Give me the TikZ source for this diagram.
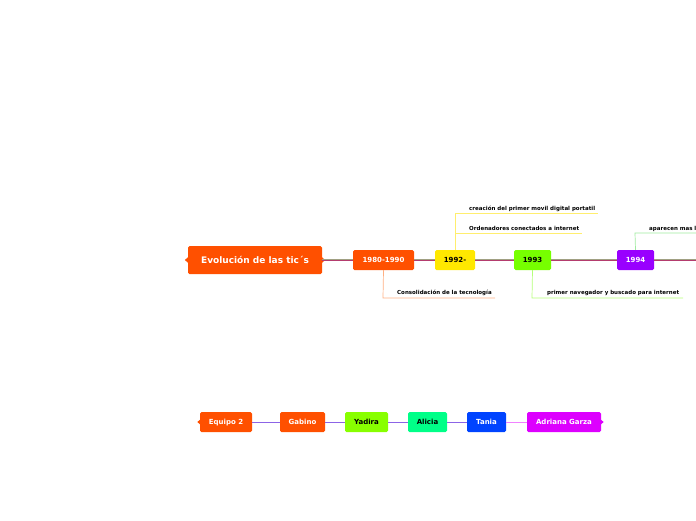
\documentclass[tikz,border=0pt]{standalone}
\usepackage{fontspec}
\setmainfont{DejaVu Sans}
\usetikzlibrary{positioning,calc}
\definecolor{orangecolor}{RGB}{255,80,0}
\definecolor{yellowcolor}{RGB}{255,232,0}
\definecolor{limecolor}{RGB}{119,255,0}
\definecolor{violetcolor}{RGB}{153,0,255}
\definecolor{yadiracolor}{RGB}{136,255,0}
\definecolor{aliciacolor}{RGB}{0,255,136}
\definecolor{taniacolor}{RGB}{0,68,255}
\definecolor{adrianacolor}{RGB}{221,0,255}
\definecolor{orangeline}{RGB}{255,175,130}
\definecolor{yellowline}{RGB}{255,238,110}
\definecolor{limeline}{RGB}{180,255,120}
\definecolor{violetline}{RGB}{160,235,160}
\definecolor{mainline}{RGB}{180,60,110}
\definecolor{shadeline}{RGB}{160,160,130}
\definecolor{teamline}{RGB}{140,100,230}
\definecolor{pinkline}{RGB}{240,130,255}
\tikzset{
  topic/.style={
    draw=none, rounded corners=1.5pt, inner sep=0pt,
    text height=6.5pt, text depth=1.4pt,
    minimum height=20pt, font=\fontsize{7}{8}\selectfont\bfseries
  },
  title/.style={
    topic, minimum height=28pt, minimum width=134pt,
    text height=8.4pt, text depth=1.8pt,
    font=\fontsize{9}{10}\selectfont\bfseries
  },
  note/.style={
    anchor=base west, inner sep=0pt, font=\fontsize{5.5}{6.5}\selectfont\bfseries
  },
  link/.style={line width=0.8pt},
  branch/.style={line width=0.7pt}
}

\begin{document}
\begin{tikzpicture}[x=1pt, y=-1pt]
\useasboundingbox (0,0) rectangle (696,520);
\clip (0,0) rectangle (696,520);

\path[]
  (255,260) node[title, fill=orangecolor, text=white] (tics) {Evolución de las tic´s}
  (383.5,260) node[topic, minimum width=61pt, fill=orangecolor, text=white] (y1980) {1980-1990}
  (455,260) node[topic, minimum width=40pt, fill=yellowcolor, text=black] (y1992) {1992-}
  (532.5,260) node[topic, minimum width=37pt, fill=limecolor, text=black] (y1993) {1993}
  (635.5,260) node[topic, minimum width=37pt, fill=violetcolor, text=white] (y1994) {1994}
;
\coordinate (timeline_end) at (696,260);

\path[fill=orangecolor]
  ($(tics.west)+(-3,0)$) -- ($(tics.west)+(0.5,-3)$) -- ($(tics.west)+(0.5,3)$) -- cycle
  ($(tics.east)+(3,0)$) -- ($(tics.east)+(-0.5,-3)$) -- ($(tics.east)+(-0.5,3)$) -- cycle
;

\path[draw,link,shadeline] ([yshift=0.5pt]tics.east) -- ([yshift=0.5pt]y1980.west);
\path[draw,link,mainline] ([yshift=-0.4pt]tics.east) -- ([yshift=-0.4pt]y1980.west);
\path[draw,link,shadeline] ([yshift=0.5pt]y1980.east) -- ([yshift=0.5pt]y1992.west);
\path[draw,link,mainline] ([yshift=-0.4pt]y1980.east) -- ([yshift=-0.4pt]y1992.west);
\path[draw,link,shadeline] ([yshift=0.5pt]y1992.east) -- ([yshift=0.5pt]y1993.west);
\path[draw,link,mainline] ([yshift=-0.4pt]y1992.east) -- ([yshift=-0.4pt]y1993.west);
\path[draw,link,shadeline] ([yshift=0.5pt]y1993.east) -- ([yshift=0.5pt]y1994.west);
\path[draw,link,mainline] ([yshift=-0.4pt]y1993.east) -- ([yshift=-0.4pt]y1994.west);
\path[draw,link,shadeline] ([yshift=0.5pt]y1994.east) -- ([yshift=0.5pt]timeline_end);
\path[draw,link,mainline] ([yshift=-0.4pt]y1994.east) -- ([yshift=-0.4pt]timeline_end);

\coordinate (c1980) at (383,298);
\coordinate (c1980_end) at (495,298);
\path[draw,branch,orangeline] (y1980.south) -- (c1980) -- (c1980_end);
\path[] (397,294) node[note] (consolidacion) {Consolidación de la tecnología};

\coordinate (c1992_top) at (455,213);
\coordinate (c1992_top_end) at (598,213);
\coordinate (c1992_mid) at (455,233);
\coordinate (c1992_mid_end) at (582,233);
\path[draw,branch,yellowline] (y1992.north) -- (c1992_top) -- (c1992_top_end);
\path[draw,branch,yellowline] (c1992_mid) -- (c1992_mid_end);
\path[] (469,210) node[note] (movil) {creación del primer movil digital portatil};
\path[] (469,230) node[note] (ordenadores) {Ordenadores conectados a internet};

\coordinate (c1993) at (532,298);
\coordinate (c1993_end) at (683,298);
\path[draw,branch,limeline] (y1993.south) -- (c1993) -- (c1993_end);
\path[] (547,294) node[note] (navegador) {primer navegador y buscado para internet};

\coordinate (c1994) at (635,233);
\coordinate (c1994_end) at (700,233);
\path[draw,branch,violetline] (y1994.north) -- (c1994) -- (c1994_end);
\path[] (649,230) node[note] (aparecen) {aparecen mas l};

\path[]
  (226,422) node[topic, minimum width=52pt, fill=orangecolor, text=white] (equipo) {Equipo 2}
  (302.5,422) node[topic, minimum width=45pt, fill=orangecolor, text=white] (gabino) {Gabino}
  (366.5,422) node[topic, minimum width=43pt, fill=yadiracolor, text=black] (yadira) {Yadira}
  (427.5,422) node[topic, minimum width=39pt, fill=aliciacolor, text=black] (alicia) {Alicia}
  (486.5,422) node[topic, minimum width=39pt, fill=taniacolor, text=white] (tania) {Tania}
  (564,422) node[topic, minimum width=74pt, fill=adrianacolor, text=white] (adriana) {Adriana Garza}
;

\path[fill=orangecolor]
  ($(equipo.west)+(-2.5,0)$) -- ($(equipo.west)+(0.5,-2.5)$) -- ($(equipo.west)+(0.5,2.5)$) -- cycle
;
\path[fill=adrianacolor]
  ($(adriana.east)+(2.5,0)$) -- ($(adriana.east)+(-0.5,-2.5)$) -- ($(adriana.east)+(-0.5,2.5)$) -- cycle
;

\path[draw,link,teamline] (equipo) -- (gabino);
\path[draw,link,teamline] (gabino) -- (yadira);
\path[draw,link,teamline] (yadira) -- (alicia);
\path[draw,link,teamline] (alicia) -- (tania);
\path[draw,link,pinkline] (tania) -- (adriana);

\end{tikzpicture}
\end{document}
